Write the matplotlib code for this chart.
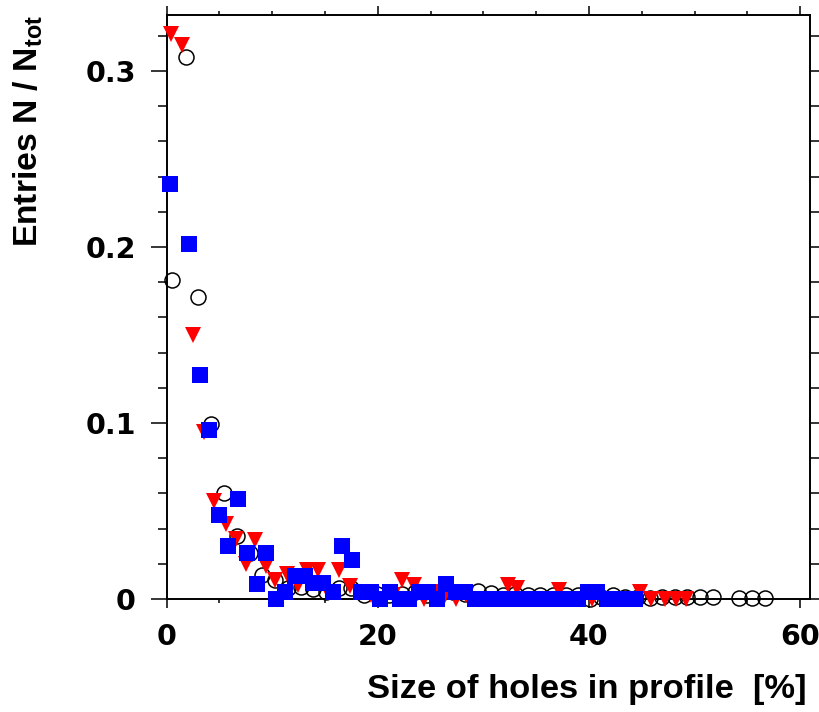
import matplotlib
matplotlib.use("Agg")
import matplotlib.pyplot as plt
from matplotlib.ticker import MultipleLocator, FixedLocator

plt.rcParams['mathtext.fontset'] = 'custom'
plt.rcParams['mathtext.rm'] = 'Liberation Sans:bold'
plt.rcParams['mathtext.bf'] = 'Liberation Sans:bold'

# Open circles
circ_x = [0.55, 1.8, 3.0, 4.25, 5.48, 6.67, 7.9, 9.08, 10.3, 11.5, 12.7, 13.9,
          15.1, 16.3, 17.5, 18.7, 19.9, 21.1, 22.3, 23.5, 24.7, 25.9, 27.1, 28.3,
          29.5, 30.7, 31.9, 33.0, 34.2, 35.4, 36.6, 37.8, 39.0, 40.1, 41.1, 42.3,
          43.4, 44.6, 45.8, 46.9, 48.1, 49.3, 50.5, 51.7, 54.2, 55.4, 56.7]
circ_y = [0.181, 0.308, 0.1713, 0.0997, 0.060, 0.0358, 0.026, 0.0134, 0.011, 0.006,
          0.007, 0.0057, 0.004, 0.006, 0.006, 0.002, 0.003, 0.002, 0.003, 0.004,
          0.002, 0.003, 0.004, 0.003, 0.0045, 0.0035, 0.002, 0.003, 0.002, 0.002,
          0.002, 0.002, 0.002, 0.0, 0.001, 0.002, 0.001, 0.001, 0.0005, 0.001,
          0.001, 0.001, 0.001, 0.001, 0.0005, 0.0005, 0.0005]

# Red downward triangles
tri_x = [0.46, 1.5, 2.5, 3.5, 4.5, 5.6, 6.6, 7.5, 8.4, 9.4, 10.3, 11.4, 12.4, 13.3,
         14.3, 15.3, 16.3, 17.4, 18.4, 19.4, 20.4, 21.4, 22.3, 23.4, 24.4, 25.4,
         26.4, 27.4, 28.4, 29.4, 30.4, 31.4, 32.3, 33.2, 34.3, 35.3, 36.3, 37.2,
         38.3, 39.3, 40.3, 41.3, 42.3, 43.3, 44.8, 45.9, 47.2, 48.2, 49.2]
tri_y = [0.321, 0.3145, 0.150, 0.095, 0.0557, 0.0426, 0.034, 0.020, 0.0335, 0.019,
         0.011, 0.014, 0.008, 0.0165, 0.0165, 0.004, 0.0165, 0.0074, 0.004, 0.002,
         0.0, 0.002, 0.011, 0.008, 0.0, 0.004, 0.002, 0.0, 0.002, 0.0, 0.0, 0.0,
         0.008, 0.006, 0.0, 0.0, 0.0, 0.005, 0.0, 0.0, 0.0, 0.0, 0.0, 0.0, 0.004,
         0.0, 0.0, 0.0, 0.0]

# Blue squares
sq_x = [0.32, 2.1, 3.16, 4.0, 5.0, 5.8, 6.8, 7.6, 8.6, 9.4, 10.4, 11.2, 12.2, 13.1,
        13.9, 14.8, 15.8, 16.6, 17.6, 18.4, 19.4, 20.2, 21.2, 22.1, 23.0, 23.9,
        24.8, 25.6, 26.5, 27.4, 28.3, 29.2, 30.1, 31.0, 31.9, 32.8, 33.6, 34.5,
        35.4, 36.3, 37.2, 38.1, 39.0, 39.9, 40.8, 41.7, 42.6, 43.5, 44.4]
sq_y = [0.236, 0.2017, 0.127, 0.096, 0.0477, 0.030, 0.0568, 0.026, 0.0085, 0.026,
        0.0, 0.004, 0.0131, 0.0131, 0.009, 0.009, 0.004, 0.030, 0.022, 0.004, 0.004,
        0.0, 0.004, 0.0, 0.0, 0.004, 0.004, 0.0, 0.0085, 0.004, 0.004, 0.0, 0.0,
        0.0, 0.0, 0.0, 0.0, 0.0, 0.0, 0.0, 0.0, 0.0, 0.0, 0.004, 0.004, 0.0, 0.0,
        0.0, 0.0]

x_ticks = [0, 20, 40, 60]
y_ticks = [0.0, 0.1, 0.2, 0.3]
y_tick_labels = ["0", "0.1", "0.2", "0.3"]

W, H = 820, 712
fig = plt.figure(figsize=(W / 100, H / 100), dpi=100)
ax = fig.add_axes([166.6 / W, 1 - 599 / H, (810 - 166.6) / W, (599 - 15) / H])

ax.plot(circ_x, circ_y, linestyle='none', marker='o', ms=10.8, mfc='none',
        mec='black', mew=1.1, clip_on=False, zorder=3)
ax.plot(tri_x, tri_y, linestyle='none', marker='v', ms=11, mfc='#ff0000',
        mec='none', mew=0, clip_on=False, zorder=4)
ax.plot(sq_x, sq_y, linestyle='none', marker='s', ms=11.5, mfc='#0000ff',
        mec='none', mew=0, clip_on=False, zorder=5)

ax.set_xlim(0, 60.93)
ax.set_ylim(0, 0.3318)

ax.xaxis.set_major_locator(FixedLocator(x_ticks))
ax.xaxis.set_minor_locator(MultipleLocator(5))
ax.yaxis.set_major_locator(FixedLocator(y_ticks))
ax.yaxis.set_minor_locator(MultipleLocator(0.02))
ax.set_xticklabels([str(v) for v in x_ticks])
ax.set_yticklabels(y_tick_labels)

for sp in ax.spines.values():
    sp.set_linewidth(1.4)

ax.tick_params(which='both', direction='out', top=True, right=True,
               labeltop=False, labelright=False, width=1.1, colors='black')
ax.xaxis.set_tick_params(which='major', length=6.5, pad=11)
ax.xaxis.set_tick_params(which='minor', length=3)
ax.yaxis.set_tick_params(which='major', length=11.5, pad=10.8)
ax.yaxis.set_tick_params(which='minor', length=6.5)

for lab in ax.get_xticklabels() + ax.get_yticklabels():
    lab.set_fontfamily('DejaVu Sans')
    lab.set_fontweight('bold')
    lab.set_fontsize(20.5)

fig.text(807 / W, 1 - 698 / H, "Size of holes in profile  [%]",
         ha='right', va='baseline', fontsize=24.8, fontweight='bold',
         family='Liberation Sans')
fig.text(11 / W, 1 - 15 / H, r"Entries N / N$_{\mathrm{tot}}$", rotation=90,
         ha='left', va='top', fontsize=24.2, fontweight='bold',
         family='Liberation Sans')

fig.savefig("out.png", dpi=100)
